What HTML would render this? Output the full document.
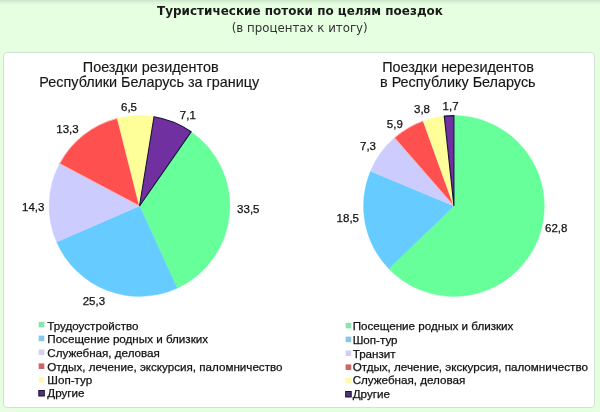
<!DOCTYPE html>
<html lang="ru"><head><meta charset="utf-8"><title>Туристические потоки по целям поездок</title>
<style>
html,body{margin:0;padding:0}
body{width:600px;height:412px;overflow:hidden;background:#e6ffe1;position:relative;font-family:"Liberation Sans",sans-serif}
.topline{position:absolute;left:0;top:0;width:600px;height:6px;background:linear-gradient(#cbe4ca,#d3ecd0 18%,#def6da 45%,#e4fddf 75%,#e6ffe1)}
.panel{position:absolute;left:3px;top:52px;width:590px;height:354px;background:#fff;border:1px solid #cfe3d2;border-radius:4px}
h1{position:absolute;left:0;top:2.6px;width:600px;margin:0;text-align:center;font:bold 12.4px "DejaVu Sans Condensed","Liberation Sans",sans-serif;color:#1a1a1a;line-height:16px;white-space:nowrap;transform:scaleX(1.075);transform-origin:300px 0}
h2{position:absolute;left:-0.3px;top:19.6px;width:600px;margin:0;text-align:center;font:normal 13.12px "DejaVu Sans Condensed","Liberation Sans",sans-serif;color:#333;line-height:16px;white-space:nowrap}
svg{position:absolute;left:0;top:0}
.ttl{font:14.4px "Liberation Sans",sans-serif;fill:#161616;stroke:#161616;stroke-width:.15px;text-anchor:middle}
.lab{font:11.5px "Liberation Sans",sans-serif;fill:#111;stroke:#111;stroke-width:.25px}
.leg{font:11.63px "Liberation Sans",sans-serif;fill:#111;stroke:#111;stroke-width:.25px}
</style></head>
<body>
<div class="topline"></div>
<h1>Туристические потоки по целям поездок</h1>
<h2>(в процентах к итогу)</h2>
<div class="panel"></div>
<svg width="600" height="412" viewBox="0 0 600 412">
<text class="ttl" x="150.7" y="71.8">Поездки резидентов</text>
<text class="ttl" x="149.3" y="86.6">Республики Беларусь за границу</text>
<text class="ttl" x="458" y="71.8">Поездки нерезидентов</text>
<text class="ttl" x="457.8" y="86.6">в Республику Беларусь</text>
<path d="M139.50,206.00L191.09,131.77A90.40,90.40 0 0 1 177.13,288.19Z" fill="#66ff99" stroke="#66ff99" stroke-width="0.4"/>
<path d="M139.50,206.00L177.13,288.19A90.40,90.40 0 0 1 56.61,242.08Z" fill="#66ccff" stroke="#66ccff" stroke-width="0.4"/>
<path d="M139.50,206.00L56.61,242.08A90.40,90.40 0 0 1 59.65,163.62Z" fill="#ccccff" stroke="#ccccff" stroke-width="0.4"/>
<path d="M139.50,206.00L59.65,163.62A90.40,90.40 0 0 1 117.39,118.35Z" fill="#ff5050" stroke="#ffb0b0" stroke-width="1.0" stroke-linejoin="miter"/>
<path d="M139.50,206.00L117.39,118.35A90.40,90.40 0 0 1 154.02,116.77Z" fill="#ffff99" stroke="#ffff99" stroke-width="0.4"/>
<path d="M139.50,206.00L154.02,116.77A90.40,90.40 0 0 1 191.09,131.77Z" fill="#7030a0" stroke="#14143a" stroke-width="1.1" stroke-linejoin="miter"/>
<path d="M453.90,206.00L453.90,115.60A90.40,90.40 0 1 1 388.78,268.71Z" fill="#66ff99" stroke="#66ff99" stroke-width="0.4"/>
<path d="M453.90,206.00L388.78,268.71A90.40,90.40 0 0 1 370.49,171.14Z" fill="#66ccff" stroke="#66ccff" stroke-width="0.4"/>
<path d="M453.90,206.00L370.49,171.14A90.40,90.40 0 0 1 394.54,137.82Z" fill="#ccccff" stroke="#ccccff" stroke-width="0.4"/>
<path d="M453.90,206.00L394.54,137.82A90.40,90.40 0 0 1 423.28,120.94Z" fill="#ff5050" stroke="#ffb0b0" stroke-width="1.0" stroke-linejoin="miter"/>
<path d="M453.90,206.00L423.28,120.94A90.40,90.40 0 0 1 444.26,116.12Z" fill="#ffff99" stroke="#ffff99" stroke-width="0.4"/>
<path d="M453.90,206.00L444.26,116.12A90.40,90.40 0 0 1 453.90,115.60Z" fill="#7030a0" stroke="#14143a" stroke-width="1.1" stroke-linejoin="miter"/>
<text x="237.1" y="213.2" class="lab">33,5</text>
<text x="82.7" y="305" class="lab">25,3</text>
<text x="22" y="210.8" class="lab">14,3</text>
<text x="56.3" y="133.2" class="lab">13,3</text>
<text x="121" y="111" class="lab">6,5</text>
<text x="179.8" y="119" class="lab">7,1</text>
<text x="545.0" y="232.1" class="lab">62,8</text>
<text x="336.6" y="221.5" class="lab">18,5</text>
<text x="360" y="150.4" class="lab">7,3</text>
<text x="386.8" y="128" class="lab">5,9</text>
<text x="414" y="113.2" class="lab">3,8</text>
<text x="442.6" y="109.5" class="lab">1,7</text>
<rect x="38.7" y="321.8" width="5.6" height="5.6" fill="#88e6ac"/>
<text x="47.3" y="329.6" class="leg">Трудоустройство</text>
<rect x="38.7" y="335.6" width="5.6" height="5.6" fill="#86c8e8"/>
<text x="47.3" y="343.1" class="leg">Посещение родных и близких</text>
<rect x="38.7" y="349.5" width="5.6" height="5.6" fill="#d2d0ee"/>
<text x="47.3" y="356.8" class="leg">Служебная, деловая</text>
<rect x="38.7" y="363.4" width="5.6" height="5.6" fill="#d26464"/>
<text x="47.3" y="370.6" class="leg">Отдых, лечение, экскурсия, паломничество</text>
<rect x="38.7" y="376.9" width="5.6" height="5.6" fill="#fbfab0"/>
<text x="47.3" y="383.6" class="leg">Шоп-тур</text>
<rect x="38.8" y="390.5" width="5.5" height="5.5" fill="#52347a" stroke="#1c0e36" stroke-width="1"/>
<text x="47.3" y="397.2" class="leg">Другие</text>
<rect x="345.6" y="322.8" width="5.6" height="5.6" fill="#88e6ac"/>
<text x="352.7" y="330.3" class="leg">Посещение родных и близких</text>
<rect x="345.6" y="336.6" width="5.6" height="5.6" fill="#86c8e8"/>
<text x="352.7" y="343.8" class="leg">Шоп-тур</text>
<rect x="345.6" y="350.5" width="5.6" height="5.6" fill="#d2d0ee"/>
<text x="352.7" y="357.5" class="leg">Транзит</text>
<rect x="345.6" y="364.4" width="5.6" height="5.6" fill="#d26464"/>
<text x="352.7" y="371.3" class="leg">Отдых, лечение, экскурсия, паломничество</text>
<rect x="345.6" y="377.9" width="5.6" height="5.6" fill="#fbfab0"/>
<text x="352.7" y="384.3" class="leg">Служебная, деловая</text>
<rect x="345.7" y="391.5" width="5.5" height="5.5" fill="#52347a" stroke="#1c0e36" stroke-width="1"/>
<text x="352.7" y="397.9" class="leg">Другие</text>
</svg>
</body></html>
